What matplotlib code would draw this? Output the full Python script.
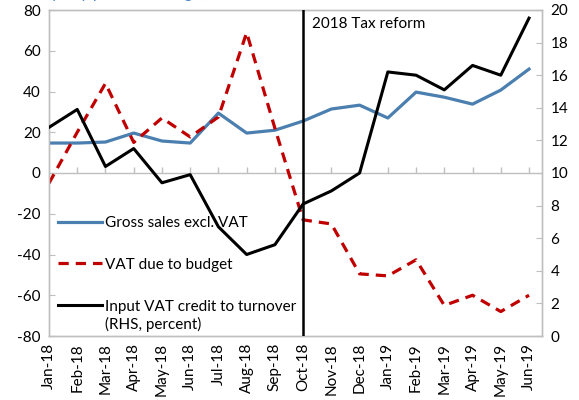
import matplotlib
matplotlib.use("Agg")
import matplotlib.pyplot as plt
import numpy as np

plt.rcParams['font.family'] = ['Lato', 'DejaVu Sans']

months = ["Jan-18", "Feb-18", "Mar-18", "Apr-18", "May-18", "Jun-18", "Jul-18", "Aug-18",
          "Sep-18", "Oct-18", "Nov-18", "Dec-18", "Jan-19", "Feb-19", "Mar-19", "Apr-19",
          "May-19", "Jun-19"]
gross_sales = [14.7, 14.7, 15.2, 19.6, 15.7, 14.7, 29.4, 19.6, 21.0, 25.5, 31.4, 33.3,
               27.0, 39.7, 37.2, 33.8, 40.7, 51.0]
vat_due = [-5.0, 20.0, 44.0, 15.0, 27.0, 17.7, 27.5, 68.9, 22.0, -23.0, -25.0, -49.5,
           -50.5, -42.6, -65.0, -60.0, -68.0, -60.0]
input_vat = [12.8, 13.9, 10.4, 11.5, 9.4, 9.9, 6.7, 5.0, 5.6, 8.1, 8.9, 10.0,
             16.2, 16.0, 15.1, 16.6, 16.0, 19.5]
left_ticks = [80, 60, 40, 20, 0, -20, -40, -60, -80]
right_ticks = [0, 2, 4, 6, 8, 10, 12, 14, 16, 18, 20]
reform_month = "Oct-18"

blue = "#4a7fb0"
red = "#c00000"
grey = "#bfbfbf"
fs = 11

fig = plt.figure(figsize=(5.79, 4.0), dpi=100)
ax = fig.add_axes([49/579, 1-336/400, (542-49)/579, (336-10)/400])
ax2 = ax.twinx()

x = np.arange(len(months))
ax.set_xlim(0, 17.46)
ax.set_ylim(-80, 80)
ax2.set_ylim(0, 20)

# zero line with tick marks
ax.axhline(0, color=grey, lw=1.0, zorder=1)
ax.vlines(x[1:], 0, 2.8, color=grey, lw=1.0, zorder=1)

l1, = ax.plot(x, gross_sales, color=blue, lw=2.3, label="Gross sales excl. VAT", zorder=3)
l2, = ax.plot(x, vat_due, color=red, lw=2.3, ls=(0, (3.2, 2.2)), label="VAT due to budget", zorder=3)
l3, = ax2.plot(x, input_vat, color="black", lw=2.2, label="Input VAT credit to turnover", zorder=3)

xi = months.index(reform_month)
ax2.axvline(xi, color="black", lw=1.8, zorder=4)
ax.text(xi + 0.3, 73, "2018 Tax reform", fontsize=fs, va='center', ha='left')

for a in (ax, ax2):
    for s in a.spines.values():
        s.set_color(grey)
        s.set_linewidth(1.0)

ax.set_yticks(left_ticks)
ax.set_yticklabels([str(v) for v in left_ticks], fontsize=fs)
ax.tick_params(axis='y', direction='in', length=4, color=grey, pad=6)
ax2.set_yticks(right_ticks)
ax2.set_yticklabels([str(v) for v in right_ticks], fontsize=fs)
ax2.tick_params(axis='y', direction='in', length=4, color=grey, pad=6)

ax.set_xticks(x)
ax.set_xticklabels(months, rotation=90, fontsize=fs)
ax.tick_params(axis='x', length=0, pad=5)

leg = ax2.legend(handles=[l1, l2, l3], loc='upper left', bbox_to_anchor=(0.005, 0.387),
                 frameon=False, fontsize=fs, handlelength=2.9, handletextpad=0.2,
                 labelspacing=1.82, borderaxespad=0)
leg.set_zorder(10)

fig.canvas.draw()
t = leg.get_texts()[-1]
bb = t.get_window_extent()
inv = fig.transFigure.inverted()
(x0, y0) = inv.transform((bb.x0, bb.y0))
fig.text(x0, y0 - 3/400, "(RHS, percent)", fontsize=fs, va='top', ha='left')

fig.text(47/579, 1 + 2/400, "(y-o-y percent change)", fontsize=11.5, color="#4a86c5",
         va='baseline', ha='left')

fig.savefig("out.png", dpi=100)
